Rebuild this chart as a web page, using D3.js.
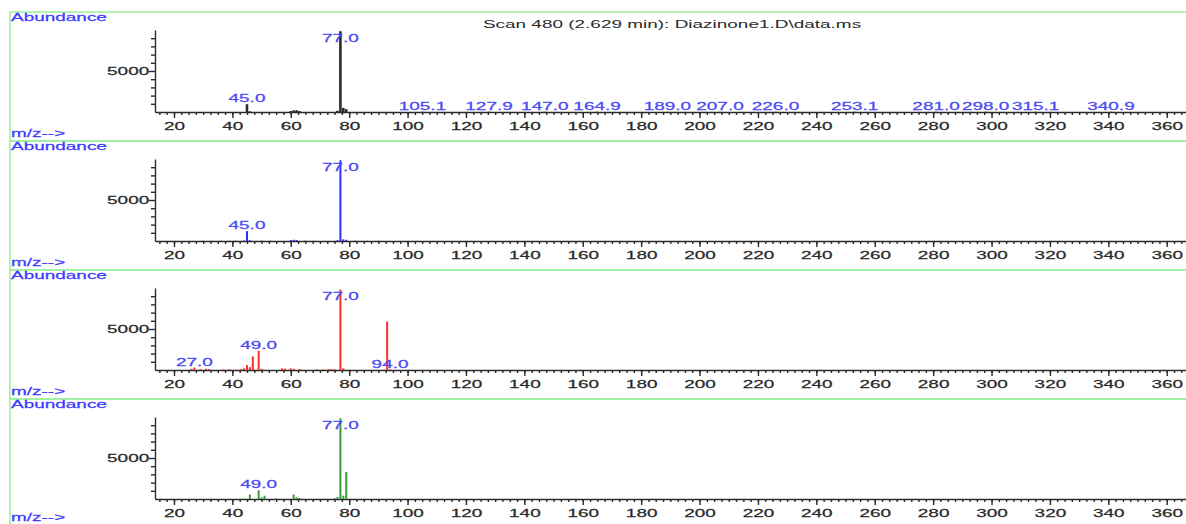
<!DOCTYPE html>
<html>
<head>
<meta charset="utf-8">
<script src="https://cdn.jsdelivr.net/npm/d3@7"></script>
<style>
  body { margin: 0; background: #fff; }
  svg { display: block; }
  text { font-family: "Liberation Sans", Arial, sans-serif; }
</style>
</head>
<body>
<svg id="chart" width="1186" height="524"></svg>
<script>
// tick values
const xMajorTicks = d3.range(20, 361, 20);
const xMinorTicks = d3.range(15, 366, 2.5);
const yMinorTicks = [1000, 2000, 3000, 4000, 6000, 7000, 8000, 9000];
const yMajorTicks = [5000];

const title = "Scan 480 (2.629 min): Diazinone1.D\\data.ms";

// panel 1 - scan (black)
const scanMz = [45, 46, 60, 61, 62, 63, 76, 77, 78, 79, 105.1, 127.9, 147.0, 164.9, 189.0, 207.0, 226.0, 253.1, 281.0, 298.0, 315.1, 340.9];
const scanAbund = [950, 80, 120, 200, 220, 120, 150, 9850, 500, 350, 30, 30, 30, 30, 30, 30, 30, 30, 30, 30, 30, 30];
const scanLabels = [45.0, 77.0, 105.1, 127.9, 147.0, 164.9, 189.0, 207.0, 226.0, 253.1, 281.0, 298.0, 315.1, 340.9];

// panel 2 - blue
const blueMz = [30, 33, 36, 39, 41, 44, 45, 46, 50, 53, 60, 61, 62, 65, 68, 76, 77, 78, 79, 82, 86, 90];
const blueAbund = [30, 30, 30, 30, 40, 60, 1200, 100, 40, 30, 120, 150, 120, 40, 30, 100, 9850, 200, 150, 40, 30, 30];
const blueLabels = [45.0, 77.0];

// panel 3 - red
const redMz = [26, 27, 29, 31, 32, 37, 39, 43, 44, 45, 46, 47, 49, 50, 57, 58, 60, 61, 63, 69, 71, 73, 74, 75, 77, 78, 93, 94];
const redAbund = [150, 300, 100, 150, 100, 60, 80, 100, 200, 600, 350, 1650, 2350, 150, 200, 150, 200, 150, 100, 80, 80, 100, 100, 80, 9800, 200, 5900, 60];
const redLabels = [27.0, 49.0, 77.0, 94.0];

// panel 4 - green
const greenMz = [46, 49, 50, 51, 55, 61, 62, 63, 75, 76, 77, 78, 79];
const greenAbund = [550, 1060, 200, 400, 60, 550, 200, 120, 100, 250, 9850, 400, 3300];
const greenLabels = [49.0, 77.0];

const STRETCH = 1.65;
const FONT = 11.5;
const labelBlue = "#4a4af5";
const axisCol = "#2a2a2a";

const svg = d3.select("#chart");

const x = d3.scaleLinear().domain([13.5, 366.6]).range([155, 1186]);

/**
 * One spectrum panel with its own frame and axes
 */
class SpectrumPanel {
    constructor(parent, top) {
        this.top = top;
        this.base = parent.append("g");
        this.y = d3.scaleLinear().domain([0, 10000]).range([top + 100, top + 18]);
    }

    /**
     * stretched text, like the source export
     */
    addText(px, py, str, color, anchor) {
        return this.base.append("text")
            .attr("transform", `translate(${px}, ${py}) scale(${STRETCH}, 1)`)
            .attr("text-anchor", anchor)
            .attr("font-size", `${FONT}px`)
            .attr("fill", color)
            .attr("stroke", color)
            .attr("stroke-width", 0.25)
            .text(str);
    }

    drawFrame() {
        this.base.append("rect")
            .attr("x", 10)
            .attr("y", this.top)
            .attr("width", 1200)
            .attr("height", 129)
            .attr("fill", "none")
            .attr("stroke", "#9cf09c")
            .attr("stroke-width", 1.5);
        this.addText(11, this.top + 9, "Abundance", "#3c3cff", "start");
        // last panel's label sits right on the bottom edge
        this.addText(11, Math.min(this.top + 125, 521), "m/z-->", "#3c3cff", "start");
    }

    drawAxes() {
        const base = this.y(0);
        const minorX = this.base.append("g")
            .attr("transform", `translate(0, ${base})`)
            .call(d3.axisBottom(x).tickValues(xMinorTicks).tickSize(3).tickSizeOuter(0).tickFormat(""));
        const majorX = this.base.append("g")
            .attr("transform", `translate(0, ${base})`)
            .call(d3.axisBottom(x).tickValues(xMajorTicks).tickSize(6).tickSizeOuter(0).tickFormat(d3.format("d")));
        majorX.selectAll("text")
            .attr("y", 10)
            .attr("transform", `scale(${STRETCH}, 1)`)
            .attr("font-size", `${FONT}px`)
            .attr("font-family", null)
            .attr("fill", axisCol)
            .attr("stroke", axisCol)
            .attr("stroke-width", 0.25);

        const minorY = this.base.append("g")
            .attr("transform", "translate(155, 0)")
            .call(d3.axisLeft(this.y).tickValues(yMinorTicks).tickSize(4).tickSizeOuter(0).tickFormat(""));
        const majorY = this.base.append("g")
            .attr("transform", "translate(155, 0)")
            .call(d3.axisLeft(this.y).tickValues(yMajorTicks).tickSize(6).tickSizeOuter(0).tickFormat(d3.format("d")));
        majorY.selectAll("text")
            .attr("x", -3.5)
            .attr("transform", `scale(${STRETCH}, 1)`)
            .attr("font-size", `${FONT}px`)
            .attr("font-family", null)
            .attr("fill", axisCol)
            .attr("stroke", axisCol)
            .attr("stroke-width", 0.25);

        [minorX, majorX, minorY, majorY].forEach(g => {
            g.selectAll("path, line").attr("stroke", axisCol).attr("stroke-width", 1.4);
        });
        majorY.select(".domain").remove();
        majorX.select(".domain").remove();
    }

    /**
     * Draws the stick spectrum
     * @param {Array} mz
     * @param {Array} abund
     * @param {String} color
     * @param {Number} width
     */
    drawPeaks(mz, abund, color, width) {
        const y = this.y;
        this.base.append("g").selectAll("line")
            .data(mz.map((m, i) => ({m: m, v: abund[i]})))
            .join("line")
            .attr("x1", d => x(d.m))
            .attr("x2", d => x(d.m))
            .attr("y1", y(0))
            .attr("y2", d => y(d.v))
            .attr("stroke", color)
            .attr("stroke-width", width);
    }

    drawLabels(labels, mz, abund) {
        const yTop = this.y(10000);
        labels.forEach(l => {
            const v = abund[mz.indexOf(l)];
            const py = Math.max(this.y(v) - 2, yTop + 12);
            this.addText(x(l), py, l.toFixed(1), labelBlue, "middle");
        });
    }
}

const panels = [
    {top: 12, mz: scanMz, abund: scanAbund, labels: scanLabels, color: "#2a2a2a", width: 2.6},
    {top: 141, mz: blueMz, abund: blueAbund, labels: blueLabels, color: "#2e2eff", width: 2},
    {top: 270, mz: redMz, abund: redAbund, labels: redLabels, color: "#ff2e2e", width: 2},
    {top: 399, mz: greenMz, abund: greenAbund, labels: greenLabels, color: "#3c9a3c", width: 2}
];

panels.forEach(p => {
    const panel = new SpectrumPanel(svg, p.top);
    panel.drawFrame();
    panel.drawAxes();
    panel.drawPeaks(p.mz, p.abund, p.color, p.width);
    panel.drawLabels(p.labels, p.mz, p.abund);
});

svg.append("text")
    .attr("transform", `translate(672, 28) scale(${STRETCH}, 1)`)
    .attr("text-anchor", "middle")
    .attr("font-size", `${FONT}px`)
    .attr("fill", axisCol)
    .text(title);
</script>
</body>
</html>
